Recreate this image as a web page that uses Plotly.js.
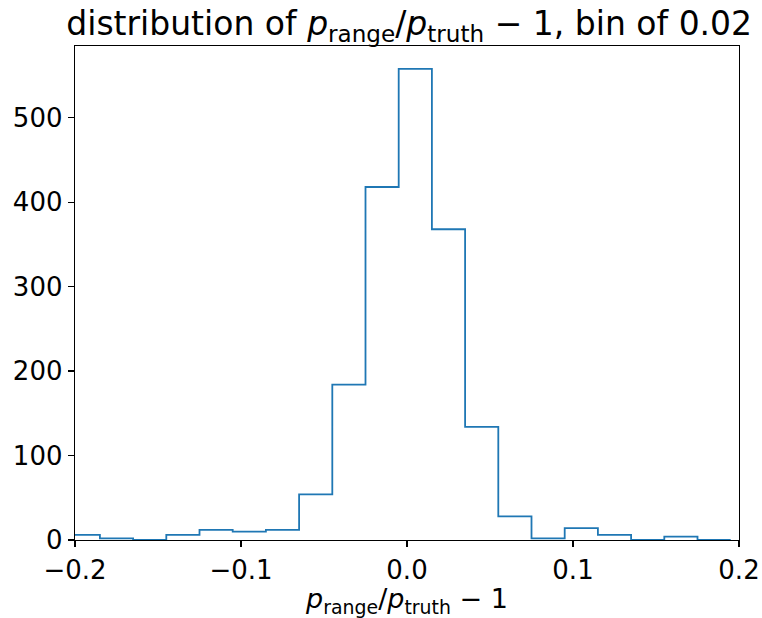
<!DOCTYPE html>
<html>
<head>
<meta charset="utf-8">
<script src="https://cdn.plot.ly/plotly-3.0.1.min.js"></script>
<style>html,body{margin:0;padding:0;background:#fff;}#chart{width:762px;height:618px;}</style>
</head>
<body>
<div id="chart"></div>
<script>
// bin edges (width 0.02)
var binEdges = [-0.205, -0.185, -0.165, -0.145, -0.125, -0.105, -0.085, -0.065, -0.045, -0.025,
                -0.005, 0.015, 0.035, 0.055, 0.075, 0.095, 0.115, 0.135, 0.155, 0.175, 0.195];
// counts per bin
var counts = [6, 2, 0, 6, 12, 10, 12, 54, 184, 418, 558, 368, 134, 28, 2, 14, 6, 0, 4, 0];
var xTicks = [-0.2, -0.1, 0.0, 0.1, 0.2];
var yTicks = [0, 100, 200, 300, 400, 500];

// step outline: start at baseline, then each bin value, ending at baseline
var xs = [binEdges[0]].concat(binEdges);
var ys = [0].concat(counts).concat([0]);

var font = "DejaVu Sans, sans-serif";
var trace = {
  x: xs, y: ys, type: 'scatter', mode: 'lines',
  line: {shape: 'hv', color: '#1f77b4', width: 1.8},
  hoverinfo: 'skip'
};
var layout = {
  width: 762, height: 618,
  margin: {l: 75, r: 23, t: 46, b: 78},
  paper_bgcolor: '#fff', plot_bgcolor: '#fff',
  showlegend: false,
  font: {family: font, color: '#000', size: 26},
  title: {
    text: 'distribution of <i>p</i><sub>range</sub>/<i>p</i><sub>truth</sub> \u2212 1, bin of 0.02',
    font: {family: font, size: 33, color: '#000'},
    x: 0.537, xanchor: 'center', y: 0.962, yanchor: 'middle'
  },
  xaxis: {
    range: [-0.2, 0.2], tickvals: xTicks, tickformat: '.1f',
    ticks: 'outside', ticklen: 6, tickwidth: 1.3, tickcolor: '#000',
    showline: true, mirror: true, linecolor: '#000', linewidth: 1.3,
    showgrid: false, zeroline: false,
    tickfont: {family: font, size: 26, color: '#000'},
    title: {text: '<i>p</i><sub>range</sub>/<i>p</i><sub>truth</sub> \u2212 1',
            font: {family: font, size: 27, color: '#000'}, standoff: 4}
  },
  yaxis: {
    range: [0, 585], tickvals: yTicks,
    ticks: 'outside', ticklen: 6, tickwidth: 1.3, tickcolor: '#000',
    showline: true, mirror: true, linecolor: '#000', linewidth: 1.3,
    showgrid: false, zeroline: false,
    tickfont: {family: font, size: 26, color: '#000'}
  }
};
Plotly.newPlot('chart', [trace], layout, {displayModeBar: false, staticPlot: true});
</script>
</body>
</html>
